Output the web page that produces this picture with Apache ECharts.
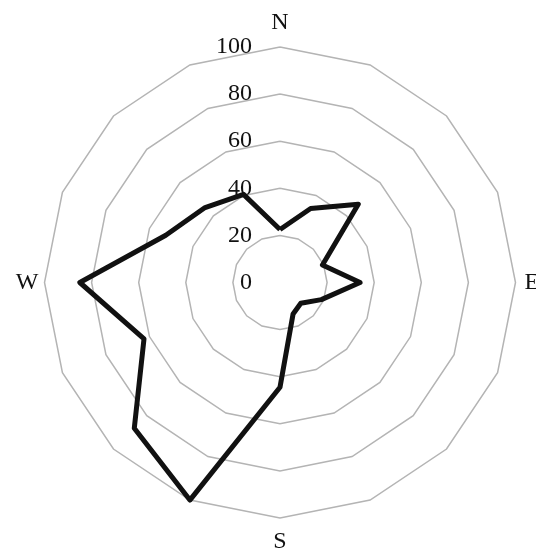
<!DOCTYPE html>
<html>
<head>
<meta charset="utf-8">
<script src="https://cdn.jsdelivr.net/npm/echarts@6/dist/echarts.min.js"></script>
<style>html,body{margin:0;padding:0;background:#fff}#c{width:536px;height:555px}</style>
</head>
<body>
<div id="c"></div>
<script>
// clockwise from north
const directions = ['N','','','','E','','','','S','','','','W','','',''];
const values = [22.5, 34, 47, 19.5, 34, 19, 12.5, 14.5, 44.5, 100, 87.5, 62.5, 85, 52.5, 45, 40.5];
const axisMax = 100;

// ECharts radar runs counter-clockwise: build the order N, NNW, NW, ... NNE
const order = directions.map((_, i) => (directions.length - i) % directions.length);
const nameGaps = { N: 12, E: 9, S: 12, W: 6 };

const chart = echarts.init(document.getElementById('c'));
const indicator = order.map((k, i) => {
  const o = { name: directions[k], min: 0, max: axisMax };
  if (nameGaps[directions[k]] != null) o.nameGap = nameGaps[directions[k]];
  if (i === 0) o.axisLabel = { show: true };
  return o;
});
chart.setOption({
  animation: false,
  radar: {
    center: [280, 282.5],
    radius: 235.5,
    startAngle: 90,
    shape: 'polygon',
    splitNumber: 5,
    indicator: indicator,
    axisName: { color: '#111', fontFamily: 'Liberation Serif', fontSize: 24 },
    nameGap: 9,
    axisLine: { show: false },
    axisTick: { show: false },
    axisLabel: { show: false, color: '#111', fontFamily: 'Liberation Serif', fontSize: 24, margin: 28, align: 'right' },
    splitLine: { lineStyle: { color: '#b4b4b4', width: 1.5 } },
    splitArea: { show: false }
  },
  series: [{
    type: 'radar',
    symbol: 'none',
    lineStyle: { color: '#111', width: 5 },
    data: [{ value: order.map(k => values[k]) }]
  }]
});
</script>
</body>
</html>
